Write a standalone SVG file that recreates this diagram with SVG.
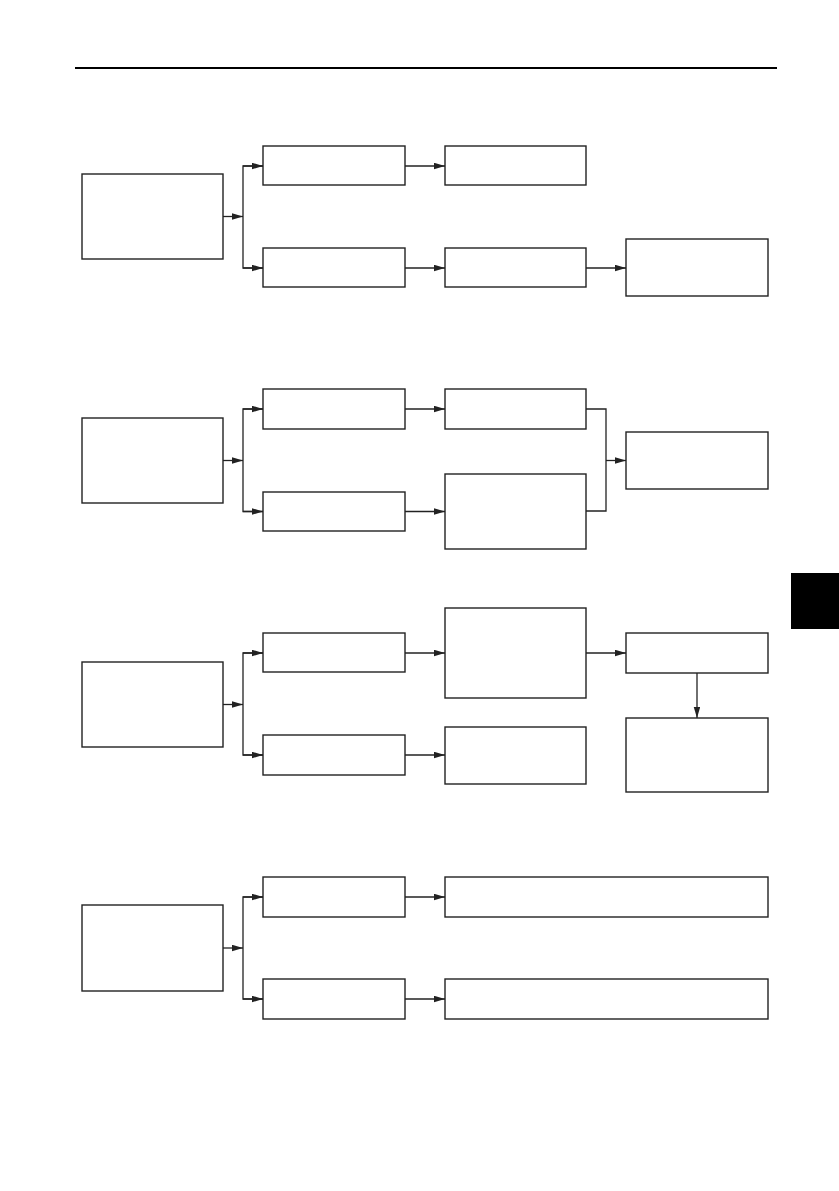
<svg xmlns="http://www.w3.org/2000/svg" width="839" height="1191" viewBox="0 0 839 1191">
<style>
.b{fill:#fff;stroke:#222;stroke-width:1.4}
.c{fill:none;stroke:#222;stroke-width:1.3}
</style>
<defs>
<marker id="ah" markerUnits="userSpaceOnUse" markerWidth="12" markerHeight="7" refX="11" refY="3.25" orient="auto">
<path d="M0,0 L11,3.25 L0,6.5 z" fill="#222"/>
</marker>
</defs>
<rect width="839" height="1191" fill="#fff"/>
<line x1="75" y1="68" x2="777" y2="68" stroke="#000" stroke-width="2.2"/>
<rect id="tab" x="791" y="573" width="48" height="56" fill="#000"/>

<g id="r1a"><rect class="b" x="82" y="174" width="141" height="85"/></g>
<g id="r1b"><rect class="b" x="263" y="146" width="142" height="39"/></g>
<g id="r1c"><rect class="b" x="263" y="248" width="142" height="39"/></g>
<g id="r1d"><rect class="b" x="445" y="146" width="141" height="39"/></g>
<g id="r1e"><rect class="b" x="445" y="248" width="141" height="39"/></g>
<g id="r1f"><rect class="b" x="626" y="239" width="142" height="57"/></g>

<g id="r2a"><rect class="b" x="82" y="418" width="141" height="85"/></g>
<g id="r2b"><rect class="b" x="263" y="389" width="142" height="40"/></g>
<g id="r2c"><rect class="b" x="263" y="492" width="142" height="39"/></g>
<g id="r2d"><rect class="b" x="445" y="389" width="141" height="40"/></g>
<g id="r2e"><rect class="b" x="445" y="474" width="141" height="75"/></g>
<g id="r2f"><rect class="b" x="626" y="432" width="142" height="57"/></g>

<g id="r3a"><rect class="b" x="82" y="662" width="141" height="85"/></g>
<g id="r3b"><rect class="b" x="263" y="633" width="142" height="39"/></g>
<g id="r3c"><rect class="b" x="263" y="735" width="142" height="40"/></g>
<g id="r3d"><rect class="b" x="445" y="608" width="141" height="90"/></g>
<g id="r3e"><rect class="b" x="445" y="727" width="141" height="57"/></g>
<g id="r3f"><rect class="b" x="626" y="633" width="142" height="40"/></g>
<g id="r3g"><rect class="b" x="626" y="718" width="142" height="74"/></g>

<g id="r4a"><rect class="b" x="82" y="905" width="141" height="86"/></g>
<g id="r4b"><rect class="b" x="263" y="877" width="142" height="40"/></g>
<g id="r4c"><rect class="b" x="263" y="979" width="142" height="40"/></g>
<g id="r4d"><rect class="b" x="445" y="877" width="323" height="40"/></g>
<g id="r4e"><rect class="b" x="445" y="979" width="323" height="40"/></g>

<g id="connectors">
<!-- row 1 -->
<line class="c" x1="223" y1="216.5" x2="243" y2="216.5" marker-end="url(#ah)"/>
<polyline class="c" points="263,166 243,166 243,268 263,268"/>
<line class="c" x1="243" y1="166" x2="263" y2="166" marker-end="url(#ah)"/>
<line class="c" x1="243" y1="268" x2="263" y2="268" marker-end="url(#ah)"/>
<line class="c" x1="405" y1="166" x2="445" y2="166" marker-end="url(#ah)"/>
<line class="c" x1="405" y1="268" x2="445" y2="268" marker-end="url(#ah)"/>
<line class="c" x1="586" y1="268" x2="626" y2="268" marker-end="url(#ah)"/>
<!-- row 2 -->
<line class="c" x1="223" y1="460.5" x2="243" y2="460.5" marker-end="url(#ah)"/>
<polyline class="c" points="263,409 243,409 243,511.5 263,511.5"/>
<line class="c" x1="243" y1="409" x2="263" y2="409" marker-end="url(#ah)"/>
<line class="c" x1="243" y1="511.5" x2="263" y2="511.5" marker-end="url(#ah)"/>
<line class="c" x1="405" y1="409" x2="445" y2="409" marker-end="url(#ah)"/>
<line class="c" x1="405" y1="511.5" x2="445" y2="511.5" marker-end="url(#ah)"/>
<polyline class="c" points="586,409 606,409 606,511 586,511"/>
<line class="c" x1="606" y1="460.5" x2="626" y2="460.5" marker-end="url(#ah)"/>
<!-- row 3 -->
<line class="c" x1="223" y1="704.5" x2="243" y2="704.5" marker-end="url(#ah)"/>
<polyline class="c" points="263,653 243,653 243,755 263,755"/>
<line class="c" x1="243" y1="653" x2="263" y2="653" marker-end="url(#ah)"/>
<line class="c" x1="243" y1="755" x2="263" y2="755" marker-end="url(#ah)"/>
<line class="c" x1="405" y1="653" x2="445" y2="653" marker-end="url(#ah)"/>
<line class="c" x1="405" y1="755" x2="445" y2="755" marker-end="url(#ah)"/>
<line class="c" x1="586" y1="653" x2="626" y2="653" marker-end="url(#ah)"/>
<line class="c" x1="697" y1="673" x2="697" y2="718" marker-end="url(#ah)"/>
<!-- row 4 -->
<line class="c" x1="223" y1="948" x2="243" y2="948" marker-end="url(#ah)"/>
<polyline class="c" points="263,897 243,897 243,999 263,999"/>
<line class="c" x1="243" y1="897" x2="263" y2="897" marker-end="url(#ah)"/>
<line class="c" x1="243" y1="999" x2="263" y2="999" marker-end="url(#ah)"/>
<line class="c" x1="405" y1="897" x2="445" y2="897" marker-end="url(#ah)"/>
<line class="c" x1="405" y1="999" x2="445" y2="999" marker-end="url(#ah)"/>
</g>
</svg>
